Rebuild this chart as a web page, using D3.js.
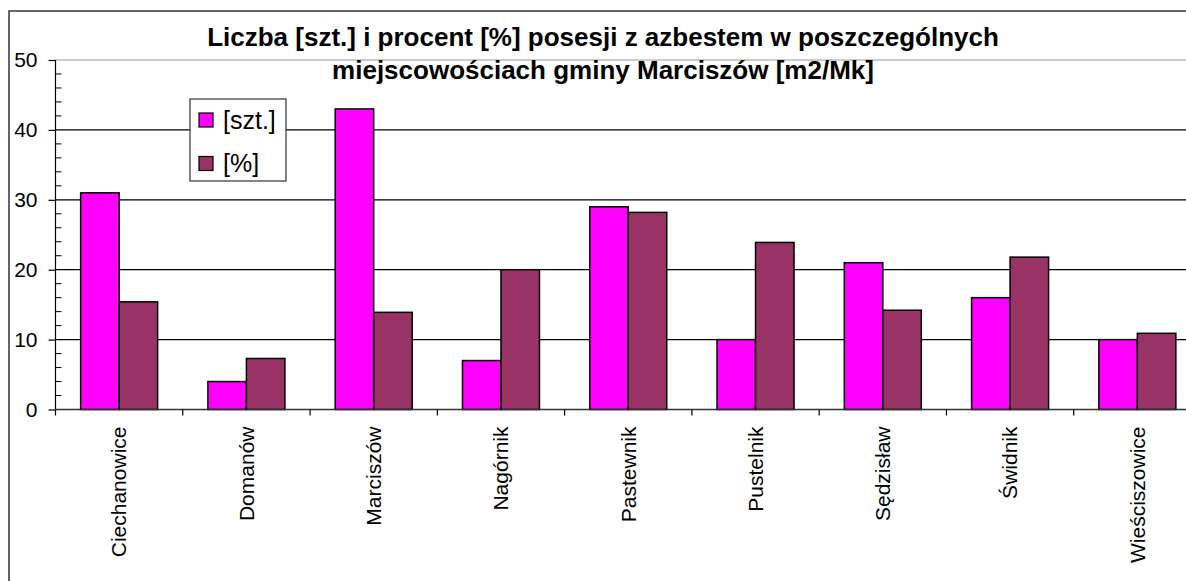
<!DOCTYPE html>
<html>
<head>
  <meta charset="utf-8">
  <script src="https://d3js.org/d3.v7.min.js"></script>
  <style>
    body { margin: 0; background: white; }
    text { font-family: Arial, "Liberation Sans", sans-serif; fill: black; }
  </style>
</head>
<body>
<svg id="chart"></svg>
<script>
  var w = 1186;
  var h = 581;

  // data
  var places = ["Ciechanowice", "Domanów", "Marciszów", "Nagórnik", "Pastewnik",
                "Pustelnik", "Sędzisław", "Świdnik", "Wieściszowice"];
  var szt = [31, 4, 43, 7, 29, 10, 21, 16, 10];
  var procent = [15.4, 7.3, 13.9, 20, 28.2, 23.9, 14.2, 21.8, 10.9];
  var seriesNames = ["[szt.]", "[%]"];
  var seriesColors = ["#ff00ff", "#993366"];
  var yTicks = [0, 10, 20, 30, 40, 50];
  var titleLines = ["Liczba [szt.] i procent [%] posesji z azbestem w poszczególnych",
                    "miejscowościach gminy Marciszów [m2/Mk]"];

  // plot area edges
  var pLeft = 55.5, pRight = 1201, pTop = 60, pBottom = 409.5;

  var svg = d3.select("#chart").attr("width", w).attr("height", h);

  // chart frame (the picture is cut at the right and bottom)
  svg.append("rect").attr("x", 9).attr("y", 11)
    .attr("width", 1200).attr("height", 600)
    .attr("fill", "white").attr("stroke", "#333").attr("stroke-width", 1.5);

  var xScale = d3.scaleBand().domain(places).range([pLeft, pRight]);
  var groupW = 77;
  var xInner = d3.scaleBand().domain([0, 1])
    .range([(xScale.bandwidth() - groupW) / 2, (xScale.bandwidth() + groupW) / 2]);
  var yScale = d3.scaleLinear().domain([0, 50]).range([pBottom, pTop]);

  // gridlines
  svg.append("g").selectAll("line").data(yTicks.slice(1)).enter().append("line")
    .attr("x1", pLeft).attr("x2", pRight)
    .attr("y1", function(d) { return yScale(d); })
    .attr("y2", function(d) { return yScale(d); })
    .attr("stroke", function(d) { return d == 50 ? "#999" : "black"; })
    .attr("stroke-width", 1.2);

  // bars
  var rows = places.map(function(p, i) { return {place: p, vals: [szt[i], procent[i]]}; });
  svg.append("g").selectAll("g").data(rows).enter().append("g")
    .attr("transform", function(d) { return "translate(" + xScale(d.place) + ",0)"; })
    .selectAll("rect").data(function(d) { return d.vals; }).enter().append("rect")
    .attr("x", function(d, i) { return xInner(i); })
    .attr("width", xInner.bandwidth())
    .attr("y", function(d) { return yScale(d); })
    .attr("height", function(d) { return pBottom - yScale(d); })
    .attr("fill", function(d, i) { return seriesColors[i]; })
    .attr("stroke", "black").attr("stroke-width", 1.5);

  // y axis
  var yAxis = d3.axisLeft(yScale).tickValues(yTicks).tickSize(7).tickPadding(11);
  var gy = svg.append("g").attr("transform", "translate(" + pLeft + ",0)").call(yAxis);
  gy.selectAll("text").attr("font-size", "21px");
  gy.attr("font-family", null);
  gy.selectAll("line, path").attr("stroke", "black").attr("stroke-width", 1.2);
  gy.select(".domain").attr("d", "M0," + pTop + "V" + pBottom);
  var minor = d3.range(0, 50, 2).filter(function(d) { return d % 10 != 0; });
  gy.selectAll(".minor").data(minor).enter().append("line").attr("class", "minor")
    .attr("x1", 0).attr("x2", 6)
    .attr("y1", function(d) { return yScale(d); })
    .attr("y2", function(d) { return yScale(d); })
    .attr("stroke", "black").attr("stroke-width", 1);

  // x axis with ticks between categories
  var tickPos = d3.range(places.length + 1).map(function(i) { return pLeft + i * xScale.step(); });
  svg.append("line").attr("x1", pLeft).attr("x2", pRight)
    .attr("y1", pBottom).attr("y2", pBottom)
    .attr("stroke", "#333").attr("stroke-width", 1.5);
  svg.append("g").selectAll("line").data(tickPos).enter().append("line")
    .attr("x1", function(d) { return d; }).attr("x2", function(d) { return d; })
    .attr("y1", pBottom).attr("y2", pBottom + 6)
    .attr("stroke", "black").attr("stroke-width", 1.2);
  svg.append("g").selectAll("text").data(places).enter().append("text")
    .attr("transform", function(d) {
      return "translate(" + (xScale(d) + xScale.bandwidth() / 2) + "," + (pBottom + 17) + ") rotate(-90)";
    })
    .attr("text-anchor", "end").attr("dy", "0.35em")
    .attr("font-size", "21px").text(function(d) { return d; });

  // title
  svg.append("g").selectAll("text").data(titleLines).enter().append("text")
    .attr("x", 603).attr("y", function(d, i) { return 46 + i * 33; })
    .attr("text-anchor", "middle").attr("font-size", "26px").attr("font-weight", "bold")
    .text(function(d) { return d; });

  // legend
  var lg = svg.append("g");
  lg.append("rect").attr("x", 190).attr("y", 99).attr("width", 96).attr("height", 82)
    .attr("fill", "white").attr("stroke", "#333").attr("stroke-width", 1.2);
  var items = lg.selectAll("g").data(seriesNames).enter().append("g")
    .attr("transform", function(d, i) { return "translate(199," + (120 + i * 43.5) + ")"; });
  items.append("rect").attr("x", 0).attr("y", -7).attr("width", 14).attr("height", 14)
    .attr("fill", function(d, i) { return seriesColors[i]; })
    .attr("stroke", "black").attr("stroke-width", 1.2);
  items.append("text").attr("x", 24).attr("dy", "0.35em")
    .attr("font-size", "25px").text(function(d) { return d; });
</script>
</body>
</html>
